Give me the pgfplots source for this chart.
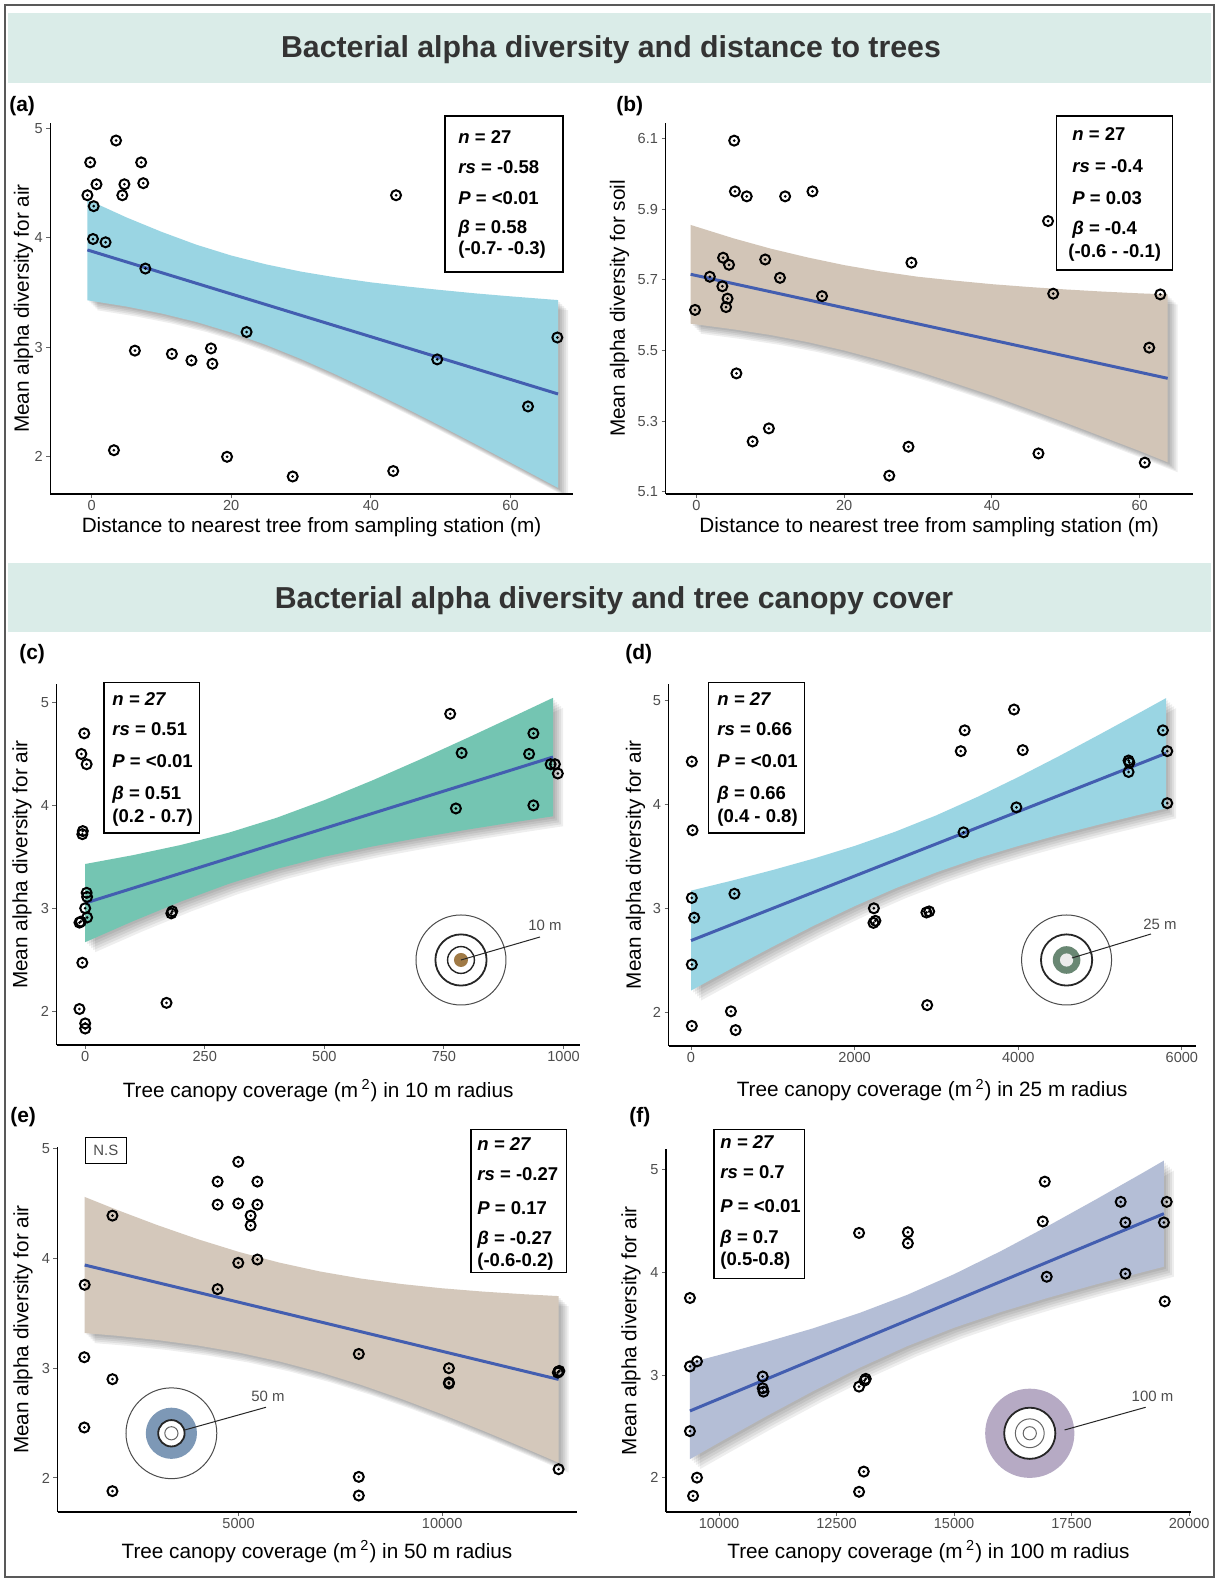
\documentclass[border=0pt]{standalone}
\usepackage{fontspec}
\setmainfont{Liberation Sans}
\usepackage{pgfplots}
\usepackage{pgfplotstable}
\pgfplotsset{compat=1.18}

\definecolor{bandA}{RGB}{154,213,227}
\definecolor{bandB}{RGB}{210,197,183}
\definecolor{bandC}{RGB}{116,197,178}
\definecolor{bandE}{RGB}{212,200,187}
\definecolor{bandF}{RGB}{180,190,214}
\definecolor{lineblue}{RGB}{67,94,176}
\definecolor{headerbg}{RGB}{218,236,232}
\definecolor{tickgray}{RGB}{77,77,77}
\definecolor{titlegray}{RGB}{51,51,51}
\definecolor{brownc}{RGB}{160,122,70}
\definecolor{greenring}{RGB}{105,135,115}
\definecolor{bluering}{RGB}{125,152,182}
\definecolor{purplec}{RGB}{182,170,196}

\pgfdeclareplotmark{codot}{%
  \pgfpathcircle{\pgfpointorigin}{\pgfplotmarksize}\pgfusepathqstroke
  \pgfpathcircle{\pgfpointorigin}{0.3\pgfplotmarksize}\pgfusepathqfill}

\pgfplotsset{
  panel/.style={
    scale only axis, anchor=south west,
    axis lines*=left,
    axis line style={line width=0.85bp, black},
    every tick/.style={line width=0.5bp, black!60},
    tick align=outside, major tick length=2bp,
    tick label style={font=\fontsize{7.3}{8}\selectfont, text=tickgray},
    xticklabel style={inner ysep=1.2bp},
    yticklabel style={inner xsep=1.6bp},
    label style={font=\fontsize{10.4}{12}\selectfont},
    /pgf/number format/assume math mode=true,
    /pgf/number format/1000 sep={},
    scaled ticks=false,
  },
  pts/.style={only marks, mark=codot, mark size=2.5bp, mark options={line width=1bp, draw=black, fill=black}},
  fitline/.style={no marks, line width=1.5bp, color=lineblue},
  shadowlayer/.style={draw=none, fill=black, fill opacity=0.065},
}

% ---------------- data ----------------
\pgfplotstableread{
x y
3.5 4.89
-0.2 4.69
7.1 4.69
-0.6 4.39
0.7 4.49
4.4 4.39
4.7 4.49
7.4 4.50
0.3 4.29
0.2 3.99
2.0 3.96
7.7 3.72
43.6 4.39
6.2 2.97
11.5 2.94
14.3 2.88
17.1 2.99
17.3 2.85
22.2 3.14
49.5 2.89
66.7 3.09
62.5 2.46
3.2 2.06
19.4 2.00
28.8 1.82
43.2 1.87
}\ptsA
\pgfplotstableread{
x y
-0.6 4.350
5 4.187
10 4.056
15 3.938
20 3.839
25 3.758
30 3.692
35 3.639
40 3.594
45 3.557
50 3.524
55 3.493
60 3.466
66.8 3.432
66.8 1.716
60 1.947
55 2.115
50 2.281
45 2.443
40 2.600
35 2.751
30 2.893
25 3.022
20 3.136
15 3.232
10 3.310
5 3.373
-0.6 3.430
}\bandAtab
\pgfplotstableread{
x y
5.1 6.095
5.2 5.951
6.8 5.937
12.0 5.937
15.7 5.951
47.6 5.867
29.1 5.749
3.6 5.763
4.4 5.743
9.3 5.758
1.8 5.709
11.3 5.706
3.5 5.682
4.2 5.647
4.0 5.623
-0.2 5.615
17.0 5.654
48.3 5.661
62.8 5.659
61.3 5.508
5.4 5.435
9.8 5.279
7.6 5.242
28.7 5.227
26.1 5.145
46.3 5.208
60.7 5.182
}\ptsB
\pgfplotstableread{
x y
-0.8 5.856
5 5.818
10 5.789
15 5.764
20 5.742
25 5.724
30 5.709
35 5.698
40 5.688
45 5.680
50 5.673
55 5.667
60 5.662
63.8 5.659
63.8 5.183
60 5.215
55 5.255
50 5.295
45 5.334
40 5.372
35 5.407
30 5.441
25 5.472
20 5.500
15 5.524
10 5.544
5 5.560
-0.8 5.576
}\bandBtab
\pgfplotstableread{
x y
763 4.89
937 4.70
787 4.51
928 4.50
973 4.40
982 4.40
988 4.31
775 3.97
937 4.00
-2 4.70
-8 4.50
3 4.40
-5 3.75
-6 3.72
3 3.15
4 3.11
0 3.00
4 2.91
-9 2.87
-12 2.86
182 2.97
180 2.95
-6 2.47
-12 2.02
0 1.88
0 1.83
170 2.08
}\ptsC
\pgfplotstableread{
x y
0 3.43
100 3.516
200 3.615
300 3.734
400 3.879
500 4.051
600 4.242
700 4.446
800 4.658
900 4.875
978 5.046
978 3.894
900 3.839
800 3.765
700 3.686
600 3.600
500 3.501
400 3.382
300 3.237
200 3.065
100 2.874
0 2.67
}\bandCtab
\pgfplotstableread{
x y
3948 4.91
3345 4.71
3297 4.51
4055 4.52
5768 4.71
5821 4.51
5348 4.42
5358 4.40
5348 4.31
3977 3.97
5821 4.01
3331 3.73
10 4.41
19 3.75
10 3.10
39 2.91
10 2.46
10 1.87
531 3.14
488 2.01
545 1.83
2235 3.00
2230 2.86
2254 2.88
2877 2.96
2911 2.97
2887 2.07
}\ptsD
\pgfplotstableread{
x y
0 3.17
500 3.266
1000 3.368
1500 3.478
2000 3.599
2500 3.737
3000 3.894
3500 4.070
4000 4.261
4500 4.463
5000 4.673
5500 4.887
5807 5.020
5807 3.960
5500 3.903
5000 3.807
4500 3.707
4000 3.599
3500 3.481
3000 3.346
2500 3.193
2000 3.021
1500 2.833
1000 2.632
500 2.424
0 2.21
}\bandDtab
\pgfplotstableread{
x y
4991 4.88
4483 4.70
5461 4.70
4483 4.49
4991 4.50
5461 4.49
5295 4.39
5295 4.30
4991 3.96
5461 3.99
4483 3.72
1900 4.39
1218 3.76
1208 3.10
1900 2.90
1208 2.46
1900 1.88
7952 3.13
7952 2.01
7952 1.84
10166 3.00
10166 2.87
10166 2.86
12860 2.97
12841 2.96
12878 2.975
12860 2.08
}\ptsE
\pgfplotstableread{
x y
1218 4.56
2000 4.444
3000 4.304
4000 4.175
5000 4.060
6000 3.962
7000 3.881
8000 3.817
9000 3.767
10000 3.728
11000 3.698
12000 3.674
12860 3.657
12860 2.139
12000 2.276
11000 2.431
10000 2.580
9000 2.720
8000 2.849
7000 2.964
6000 3.062
5000 3.143
4000 3.207
3000 3.257
2000 3.296
1218 3.32
}\bandEtab
\pgfplotstableread{
x y
16929 4.885
18544 4.688
19523 4.688
16887 4.497
18644 4.487
19464 4.487
18644 3.988
16971 3.958
19481 3.718
12979 4.385
14017 4.392
14017 4.284
9381 3.751
9381 3.084
9531 3.133
10929 2.986
10929 2.871
10946 2.838
12979 2.887
13096 2.946
13121 2.963
9381 2.453
9531 2.000
9448 1.822
13079 2.059
12979 1.862
}\ptsF
\pgfplotstableread{
x y
9381 3.120
10000 3.195
11000 3.321
12000 3.455
13000 3.607
14000 3.781
15000 3.983
16000 4.209
17000 4.453
18000 4.707
19000 4.967
19464 5.090
19464 4.056
19000 4.001
18000 3.881
17000 3.753
16000 3.615
15000 3.461
14000 3.281
13000 3.073
12000 2.843
11000 2.597
10000 2.341
9381 2.180
}\bandFtab

\newcommand{\band}[2]{%
  \addplot[shadowlayer, xshift=1bp, yshift=-1bp] table {#1} -- cycle;
  \addplot[shadowlayer, xshift=2bp, yshift=-2bp] table {#1} -- cycle;
  \addplot[shadowlayer, xshift=3bp, yshift=-3bp] table {#1} -- cycle;
  \addplot[shadowlayer, xshift=4bp, yshift=-4bp] table {#1} -- cycle;
  \addplot[shadowlayer, xshift=5bp, yshift=-5bp] table {#1} -- cycle;
  \addplot[draw=none, fill=#2] table {#1} -- cycle;
}
\newcommand{\statfont}{\fontsize{9.3}{11}\selectfont\bfseries}

\begin{document}
\begin{tikzpicture}
\useasboundingbox (0,0) rectangle (610bp,-790.5bp);
\fill[white] (0,0) rectangle (610bp,-790.5bp);

\begin{scope}[x=0.5bp,y=-0.5bp]
\draw[black!65, line width=0.6bp] (5,5) rectangle (1214,1577);
\fill[headerbg] (8.5,13.3) rectangle (1211,82.7);
\fill[headerbg] (8.5,562.7) rectangle (1211,631.7);
\node[font=\fontsize{15.2}{17}\selectfont\bfseries, text=titlegray] at (611,50) {Bacterial alpha diversity and distance to trees};
\node[font=\fontsize{15.2}{17}\selectfont\bfseries, text=titlegray] at (614,601) {Bacterial alpha diversity and tree canopy cover};
\end{scope}

% (a)
\begin{axis}[panel, at={(25.2bp,-247bp)}, width=261.15bp, height=185.5bp,
  xmin=-5.9, xmax=68.9, ymin=1.66, ymax=5.05,
  xtick={0,20,40,60}, ytick={2,3,4,5},
  xlabel={Distance to nearest tree from sampling station (m)},
  ylabel={Mean alpha diversity for air},
  xlabel style={at={(axis description cs:0.5,0)}, anchor=center, yshift=-16.5bp},
  ylabel style={at={([xshift=-13.5bp]axis description cs:0,0.5)}, anchor=center}]
\band{\bandAtab}{bandA}
\addplot[fitline] coordinates {(-0.6,3.890) (66.8,2.574)};
\addplot[pts] table {\ptsA};
\end{axis}

% (b)
\begin{axis}[panel, at={(332.75bp,-247bp)}, width=263.65bp, height=185.5bp,
  xmin=-4.2, xmax=67.2, ymin=5.093, ymax=6.145,
  xtick={0,20,40,60}, ytick={5.1,5.3,5.5,5.7,5.9,6.1},
  yticklabel style={/pgf/number format/fixed, /pgf/number format/precision=1, /pgf/number format/fixed zerofill},
  xlabel={Distance to nearest tree from sampling station (m)},
  ylabel={Mean alpha diversity for soil},
  xlabel style={at={(axis description cs:0.5,0)}, anchor=center, yshift=-16.5bp},
  ylabel style={at={([xshift=-23bp]axis description cs:0,0.5)}, anchor=center}]
\band{\bandBtab}{bandB}
\addplot[fitline] coordinates {(-0.8,5.716) (63.8,5.421)};
\addplot[pts] table {\ptsB};
\end{axis}

% (c)
\begin{axis}[panel, at={(28.25bp,-522.5bp)}, width=261.65bp, height=180.5bp,
  xmin=-60, xmax=1034, ymin=1.67, ymax=5.18,
  xtick={0,250,500,750,1000}, ytick={2,3,4,5},
  xlabel={Tree canopy coverage (m\,\textsuperscript{2}) in 10 m radius},
  ylabel={Mean alpha diversity for air},
  xlabel style={at={(axis description cs:0.5,0)}, anchor=center, yshift=-22.75bp},
  ylabel style={at={([xshift=-17.25bp]axis description cs:0,0.5)}, anchor=center}]
\band{\bandCtab}{bandC}
\addplot[fitline] coordinates {(0,3.05) (978,4.47)};
\addplot[pts] table {\ptsC};
\end{axis}

% (d)
\begin{axis}[panel, at={(334.25bp,-523bp)}, width=263.65bp, height=181.25bp,
  xmin=-275, xmax=6170, ymin=1.677, ymax=5.16,
  xtick={0,2000,4000,6000}, ytick={2,3,4,5},
  xlabel={Tree canopy coverage (m\,\textsuperscript{2}) in 25 m radius},
  ylabel={Mean alpha diversity for air},
  xlabel style={at={(axis description cs:0.5,0)}, anchor=center, yshift=-22bp},
  ylabel style={at={([xshift=-16.5bp]axis description cs:0,0.5)}, anchor=center}]
\band{\bandDtab}{bandA}
\addplot[fitline] coordinates {(0,2.69) (5807,4.49)};
\addplot[pts] table {\ptsD};
\end{axis}

% (e)
\begin{axis}[panel, at={(28.75bp,-756bp)}, width=259.5bp, height=182.5bp,
  xmin=550, xmax=13300, ymin=1.69, ymax=5.015,
  xtick={5000,10000}, ytick={2,3,4,5},
  xlabel={Tree canopy coverage (m\,\textsuperscript{2}) in 50 m radius},
  ylabel={Mean alpha diversity for air},
  xlabel style={at={(axis description cs:0.5,0)}, anchor=center, yshift=-19.75bp},
  ylabel style={at={([xshift=-17.2bp]axis description cs:0,0.5)}, anchor=center}]
\band{\bandEtab}{bandE}
\addplot[fitline] coordinates {(1218,3.94) (12860,2.898)};
\addplot[pts] table {\ptsE};
\end{axis}

% (f)
\begin{axis}[panel, at={(333bp,-756bp)}, width=262.5bp, height=181.35bp,
  xmin=8872, xmax=20040, ymin=1.665, ymax=5.2,
  xtick={10000,12500,15000,17500,20000}, ytick={2,3,4,5},
  xlabel={Tree canopy coverage (m\,\textsuperscript{2}) in 100 m radius},
  ylabel={Mean alpha diversity for air},
  xlabel style={at={(axis description cs:0.5,0)}, anchor=center, yshift=-19.75bp},
  ylabel style={at={([xshift=-17.5bp]axis description cs:0,0.5)}, anchor=center}]
\band{\bandFtab}{bandF}
\addplot[fitline] coordinates {(9381,2.65) (19464,4.573)};
\addplot[pts] table {\ptsF};
\end{axis}

\begin{scope}[x=0.5bp,y=-0.5bp]
% panel labels
\foreach \lab/\xx/\yy in {(a)/9/106,(b)/616/106,(c)/19/654,(d)/625/654,(e)/10/1117,(f)/629/1117}
  \node[anchor=west, font=\fontsize{10.5}{12}\selectfont\bfseries, inner sep=0] at (\xx,\yy) {\lab};

% stat boxes
\draw[line width=0.7bp] (445,116) rectangle (563,272);
\node[anchor=base west, inner sep=0, font=\statfont] at (458,144) {\textit{n} = 27};
\node[anchor=base west, inner sep=0, font=\statfont] at (458,173.4) {\textit{rs} = -0.58};
\node[anchor=base west, inner sep=0, font=\statfont] at (458,204.4) {\textit{P} = <0.01};
\node[anchor=base west, inner sep=0, font=\statfont] at (458,234) {\textit{β} = 0.58};
\node[anchor=base west, inner sep=0, font=\statfont] at (458,254.4) {(-0.7- -0.3)};

\draw[line width=0.7bp] (1056.7,116) rectangle (1172.6,270);
\node[anchor=base west, inner sep=0, font=\statfont] at (1072,140.7) {\textit{n} = 27};
\node[anchor=base west, inner sep=0, font=\statfont] at (1072,172.1) {\textit{rs} = -0.4};
\node[anchor=base west, inner sep=0, font=\statfont] at (1072,204.3) {\textit{P} = 0.03};
\node[anchor=base west, inner sep=0, font=\statfont] at (1072,234.6) {\textit{β} = -0.4};
\node[anchor=base west, inner sep=0, font=\statfont] at (1068,257.5) {(-0.6 - -0.1)};

\draw[line width=0.7bp] (103.9,682.6) rectangle (199.6,833);
\node[anchor=base west, inner sep=0, font=\statfont] at (112,705.4) {\textit{n = 27}};
\node[anchor=base west, inner sep=0, font=\statfont] at (112,735.7) {\textit{rs} = 0.51};
\node[anchor=base west, inner sep=0, font=\statfont] at (112,768) {\textit{P} = <0.01};
\node[anchor=base west, inner sep=0, font=\statfont] at (112,799.2) {\textit{β} = 0.51};
\node[anchor=base west, inner sep=0, font=\statfont] at (112,822.2) {(0.2 - 0.7)};

\draw[line width=0.7bp] (708.8,682.6) rectangle (804.6,833);
\node[anchor=base west, inner sep=0, font=\statfont] at (717,705.4) {\textit{n = 27}};
\node[anchor=base west, inner sep=0, font=\statfont] at (717,735.7) {\textit{rs} = 0.66};
\node[anchor=base west, inner sep=0, font=\statfont] at (717,768) {\textit{P} = <0.01};
\node[anchor=base west, inner sep=0, font=\statfont] at (717,799.2) {\textit{β} = 0.66};
\node[anchor=base west, inner sep=0, font=\statfont] at (717,822.2) {(0.4 - 0.8)};

\draw[line width=0.7bp] (470.9,1129.3) rectangle (566.7,1272.5);
\node[anchor=base west, inner sep=0, font=\statfont] at (477,1150.1) {\textit{n = 27}};
\node[anchor=base west, inner sep=0, font=\statfont] at (477,1180.4) {\textit{rs} = -0.27};
\node[anchor=base west, inner sep=0, font=\statfont] at (477,1214.7) {\textit{P} = 0.17};
\node[anchor=base west, inner sep=0, font=\statfont] at (477,1245) {\textit{β} = -0.27};
\node[anchor=base west, inner sep=0, font=\statfont] at (477,1266.9) {(-0.6-0.2)};

\draw[line width=0.7bp] (713.9,1129.3) rectangle (804.6,1278.6);
\node[anchor=base west, inner sep=0, font=\statfont] at (720,1148.1) {\textit{n = 27}};
\node[anchor=base west, inner sep=0, font=\statfont] at (720,1178.4) {\textit{rs} = 0.7};
\node[anchor=base west, inner sep=0, font=\statfont] at (720,1212.7) {\textit{P} = <0.01};
\node[anchor=base west, inner sep=0, font=\statfont] at (720,1243.9) {\textit{β} = 0.7};
\node[anchor=base west, inner sep=0, font=\statfont] at (720,1265.9) {(0.5-0.8)};

% N.S box
\draw[line width=0.6bp] (85.3,1137.7) rectangle (126.3,1163.3);
\node[font=\fontsize{7.5}{9}\selectfont, text=tickgray] at (105.8,1150.5) {N.S};

% inset (c)
\draw[black!70, line width=0.5bp] (461,960) circle[radius=22.5bp];
\draw[black!85, line width=0.9bp] (461,960) circle[radius=12.8bp];
\draw[black!85, line width=0.7bp] (461,960) circle[radius=6.7bp];
\fill[brownc] (461,960) circle[radius=3.5bp];
\draw[black!85, line width=0.5bp] (461,960) -- (540,937);
\node[font=\fontsize{7.5}{9}\selectfont, text=tickgray] at (545,925) {10 m};

% inset (d)
\draw[black!70, line width=0.5bp] (1066.6,960) circle[radius=22.5bp];
\draw[black!85, line width=0.9bp] (1066.6,960) circle[radius=12.8bp];
\fill[greenring] (1066.6,960) circle[radius=6.9bp];
\fill[black!8] (1066.6,960) circle[radius=3.3bp];
\draw[black!85, line width=0.5bp] (1072,958) -- (1151,934);
\node[font=\fontsize{7.5}{9}\selectfont, text=tickgray] at (1160,924) {25 m};

% inset (e)
\draw[black!70, line width=0.5bp] (171.4,1433.3) circle[radius=22.7bp];
\fill[bluering] (171.4,1433.3) circle[radius=12.8bp];
\fill[white] (171.4,1433.3) circle[radius=6.6bp];
\draw[black!85, line width=0.9bp] (171.4,1433.3) circle[radius=6.6bp];
\draw[black!60, line width=0.5bp] (171.4,1433.3) circle[radius=3.3bp];
\draw[black!85, line width=0.5bp] (184.8,1430) -- (266,1407.3);
\node[font=\fontsize{7.5}{9}\selectfont, text=tickgray] at (268,1396) {50 m};

% inset (f)
\fill[purplec] (1029.8,1433.3) circle[radius=22.3bp];
\fill[white] (1029.8,1433.3) circle[radius=12.8bp];
\draw[black!85, line width=0.9bp] (1029.8,1433.3) circle[radius=12.8bp];
\draw[black!60, line width=0.5bp] (1029.8,1433.3) circle[radius=7.2bp];
\draw[black!60, line width=0.5bp] (1029.8,1433.3) circle[radius=3.3bp];
\draw[black!85, line width=0.5bp] (1064.6,1430) -- (1145.7,1407.3);
\node[font=\fontsize{7.5}{9}\selectfont, text=tickgray] at (1152.5,1396) {100 m};
\end{scope}
\end{tikzpicture}
\end{document}
